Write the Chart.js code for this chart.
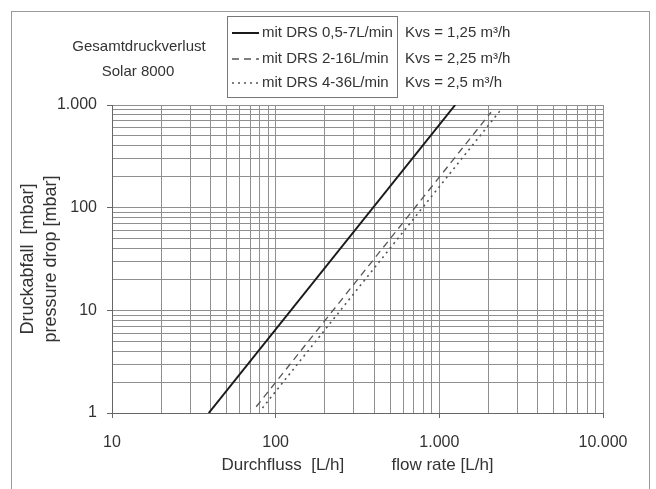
<!DOCTYPE html>
<html><head><meta charset="utf-8">
<script src="https://cdn.jsdelivr.net/npm/chart.js@4/dist/chart.umd.min.js"></script>
<style>html,body{margin:0;padding:0;background:#fff}</style>
</head><body>
<canvas id="c" width="656" height="489"></canvas>
<script>
const chartTitle = ['Gesamtdruckverlust', 'Solar 8000'];
const seriesLabels = ['mit DRS 0,5-7L/min', 'mit DRS 2-16L/min', 'mit DRS 4-36L/min'];
const kvsLabels = ['Kvs = 1,25 m\u00B3/h', 'Kvs = 2,25 m\u00B3/h', 'Kvs = 2,5 m\u00B3/h'];
const flowSolid = [39, 1250];
const dropSolid = [1, 1000];
const flowDashed = [76, 2070];
const dropDashed = [1.15, 850];
const flowDotted = [83, 2390];
const dropDotted = [1.12, 910];
const xTickValues = [10, 100, 1000, 10000];
const xTickLabels = ['10', '100', '1.000', '10.000'];
const yTickValues = [1, 10, 100, 1000];
const yTickLabels = ['1', '10', '100', '1.000'];
const xTitle = 'Durchfluss  [L/h]          flow rate [L/h]';
const yTitle = ['Druckabfall  [mbar]', 'pressure drop [mbar]'];

const FONT = "'Liberation Sans', Arial, sans-serif";
const TEXT = '#333';

function toPoints(xs, ys) { return xs.map((x, i) => ({x: x, y: ys[i]})); }
function logGrid(min, max) {
  const out = [];
  for (let e = Math.floor(Math.log10(min)); e <= Math.ceil(Math.log10(max)); e++) {
    for (let k = 1; k <= 9; k++) {
      const v = Math.round(k * Math.pow(10, e) * 1e6) / 1e6;
      if (v >= min - 1e-9 && v <= max + 1e-9) out.push({value: v});
    }
  }
  return out;
}
function labelFor(values, labels) {
  return function (v) { const i = values.indexOf(Math.round(v * 1e6) / 1e6); return i >= 0 ? labels[i] : ''; };
}
function majorColor(values) {
  return function (ctx) { return ctx.tick && values.indexOf(ctx.tick.value) >= 0 ? '#666' : 'rgba(0,0,0,0)'; };
}

const decor = {
  id: 'decor',
  afterDraw(chart) {
    const ctx = chart.ctx;
    ctx.save();
    // outer frame
    ctx.strokeStyle = '#9a9a9a';
    ctx.lineWidth = 1;
    ctx.strokeRect(11.5, 11.5, 638, 490);
    // title
    ctx.fillStyle = TEXT;
    ctx.font = '15px ' + FONT;
    ctx.textAlign = 'center';
    ctx.textBaseline = 'middle';
    ctx.fillText(chartTitle[0], 139, 47);
    ctx.fillText(chartTitle[1], 138, 72);
    // legend box
    ctx.strokeStyle = '#777';
    ctx.strokeRect(227.5, 16.5, 170, 81);
    const rows = [33, 59, 83];
    chart.data.datasets.forEach((ds, i) => {
      ctx.save();
      ctx.strokeStyle = ds.borderColor;
      ctx.lineWidth = ds.borderWidth;
      ctx.setLineDash(ds.borderDash || []);
      ctx.beginPath();
      ctx.moveTo(232, rows[i]);
      ctx.lineTo(259, rows[i]);
      ctx.stroke();
      ctx.restore();
      ctx.fillStyle = TEXT;
      ctx.font = '15px ' + FONT;
      ctx.textAlign = 'left';
      ctx.fillText(ds.label, 262, rows[i]);
      ctx.fillText(kvsLabels[i], 405, rows[i]);
    });
    ctx.restore();
  }
};

new Chart(document.getElementById('c'), {
  type: 'line',
  data: {
    datasets: [
      {label: seriesLabels[0], data: toPoints(flowSolid, dropSolid), borderColor: '#1a1a1a', borderWidth: 2, borderDash: [], pointRadius: 0, fill: false},
      {label: seriesLabels[1], data: toPoints(flowDashed, dropDashed), borderColor: '#555', borderWidth: 1.3, borderDash: [7, 5], pointRadius: 0, fill: false},
      {label: seriesLabels[2], data: toPoints(flowDotted, dropDotted), borderColor: '#555', borderWidth: 1.6, borderDash: [2, 4], pointRadius: 0, fill: false}
    ]
  },
  options: {
    responsive: false,
    animation: false,
    layout: {padding: {left: 0, right: 53, top: 105, bottom: 0}},
    plugins: {legend: {display: false}, tooltip: {enabled: false}, title: {display: false}},
    scales: {
      x: {
        type: 'logarithmic', min: 10, max: 10000,
        afterBuildTicks: (s) => { s.ticks = logGrid(s.min, s.max); },
        afterFit: (s) => { s.height = 76; },
        ticks: {autoSkip: false, maxRotation: 0, minRotation: 0, padding: 15, color: TEXT,
                font: {family: FONT, size: 16}, callback: labelFor(xTickValues, xTickLabels)},
        grid: {color: '#8f8f8f', lineWidth: 1, tickLength: 5, tickColor: majorColor(xTickValues)},
        border: {color: '#666', width: 1},
        title: {display: true, text: xTitle, color: TEXT, font: {family: FONT, size: 17, lineHeight: '20px'}, padding: {top: 0, bottom: 14}}
      },
      y: {
        type: 'logarithmic', min: 1, max: 1000,
        afterBuildTicks: (s) => { s.ticks = logGrid(s.min, s.max); },
        afterFit: (s) => { s.width = 112; },
        ticks: {autoSkip: false, padding: 10, color: TEXT,
                font: {family: FONT, size: 16}, callback: labelFor(yTickValues, yTickLabels)},
        grid: {color: '#8f8f8f', lineWidth: 1, tickLength: 5, tickColor: majorColor(yTickValues)},
        border: {color: '#666', width: 1},
        title: {display: true, text: yTitle, color: TEXT, font: {family: FONT, size: 18, lineHeight: '23px'}, padding: {top: 17, bottom: 0}}
      }
    }
  },
  plugins: [decor]
});
</script>
</body></html>
